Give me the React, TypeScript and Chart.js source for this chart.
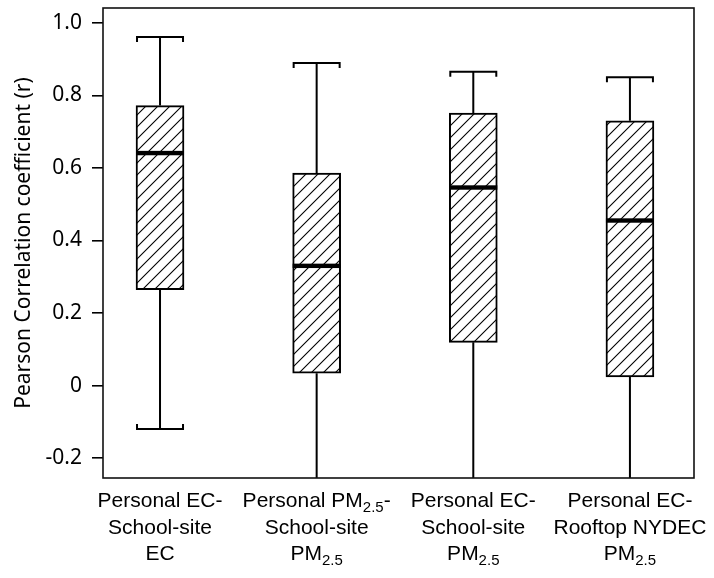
import React, { useEffect, useRef } from 'react';
import { Chart, registerables } from 'chart.js';

Chart.register(...registerables);

// ---- data ----
const categories: string[][] = [
  ['Personal EC-', 'School-site', 'EC'],
  ['Personal PM_{2.5}-', 'School-site', 'PM_{2.5}'],
  ['Personal EC-', 'School-site', 'PM_{2.5}'],
  ['Personal EC-', 'Rooftop NYDEC', 'PM_{2.5}'],
];
const whiskerHigh = [0.961, 0.889, 0.865, 0.85];
const q3Values = [0.772, 0.586, 0.751, 0.73];
const medianValues = [0.641, 0.33, 0.546, 0.455];
const q1Values = [0.264, 0.034, 0.119, 0.024];
const whiskerLow = [-0.12, -0.3, -0.3, -0.3];
const yTicks = [-0.2, 0, 0.2, 0.4, 0.6, 0.8, 1.0];
const yTitle = 'Pearson Correlation coefficient (r)';

const LABEL_FONT = '"Liberation Sans", Arial, sans-serif';
const AXIS_FONT = '"Noto Sans", sans-serif';

function makeHatch(ctx: CanvasRenderingContext2D): CanvasPattern | string {
  const s = 12;
  const c = document.createElement('canvas');
  c.width = s;
  c.height = s;
  const g = c.getContext('2d');
  if (!g) return '#fff';
  g.fillStyle = '#fff';
  g.fillRect(0, 0, s, s);
  g.strokeStyle = '#000';
  g.lineWidth = 1.1;
  g.beginPath();
  g.moveTo(0, s);
  g.lineTo(s, 0);
  g.moveTo(-s / 2, s / 2);
  g.lineTo(s / 2, -s / 2);
  g.moveTo(s / 2, s * 1.5);
  g.lineTo(s * 1.5, s / 2);
  g.stroke();
  return ctx.createPattern(c, 'repeat') || '#fff';
}

function parseSegments(line: string) {
  const segs: { t: string; sub: boolean }[] = [];
  const re = /_\{([^}]*)\}/g;
  let last = 0;
  let m: RegExpExecArray | null;
  while ((m = re.exec(line))) {
    if (m.index > last) segs.push({ t: line.slice(last, m.index), sub: false });
    segs.push({ t: m[1], sub: true });
    last = m.index + m[0].length;
  }
  if (last < line.length) segs.push({ t: line.slice(last), sub: false });
  return segs;
}

const boxPlugin = {
  id: 'boxExtras',
  afterDatasetsDraw(chart: any) {
    const { ctx, chartArea, scales } = chart;
    const x = scales.x;
    const y = scales.y;
    const meta = chart.getDatasetMeta(0);
    ctx.save();
    ctx.beginPath();
    ctx.rect(chartArea.left, chartArea.top, chartArea.right - chartArea.left, chartArea.bottom - chartArea.top);
    ctx.clip();
    ctx.strokeStyle = '#000';
    ctx.fillStyle = '#000';
    categories.forEach((_, i) => {
      const cx = x.getPixelForValue(i);
      const bar = meta.data[i];
      const half = (bar && bar.width ? bar.width : 48) / 2;
      const yHigh = y.getPixelForValue(whiskerHigh[i]);
      const yQ3 = y.getPixelForValue(q3Values[i]);
      const yQ1 = y.getPixelForValue(q1Values[i]);
      const yLow = y.getPixelForValue(whiskerLow[i]);
      const yMed = y.getPixelForValue(medianValues[i]);
      ctx.lineWidth = 2;
      ctx.beginPath();
      ctx.moveTo(cx, yQ3);
      ctx.lineTo(cx, yHigh);
      ctx.moveTo(cx, yQ1);
      ctx.lineTo(cx, yLow);
      ctx.stroke();
      // caps
      ctx.beginPath();
      ctx.moveTo(cx - half + 1, yHigh + 5);
      ctx.lineTo(cx - half + 1, yHigh);
      ctx.lineTo(cx + half - 1, yHigh);
      ctx.lineTo(cx + half - 1, yHigh + 5);
      ctx.moveTo(cx - half + 1, yLow - 5);
      ctx.lineTo(cx - half + 1, yLow);
      ctx.lineTo(cx + half - 1, yLow);
      ctx.lineTo(cx + half - 1, yLow - 5);
      ctx.stroke();
      // median
      ctx.fillRect(cx - half, yMed - 2.2, half * 2, 4.4);
    });
    ctx.restore();
  },
  afterDraw(chart: any) {
    const { ctx, chartArea, scales } = chart;
    const x = scales.x;
    ctx.save();
    ctx.strokeStyle = '#111';
    ctx.lineWidth = 1.6;
    ctx.strokeRect(chartArea.left, chartArea.top, chartArea.right - chartArea.left, chartArea.bottom - chartArea.top);
    // x labels with subscripts
    ctx.fillStyle = '#000';
    ctx.textBaseline = 'alphabetic';
    ctx.textAlign = 'left';
    const mainSize = 21;
    const subSize = 15;
    categories.forEach((lines, i) => {
      const cx = x.getPixelForValue(i);
      lines.forEach((line, j) => {
        const segs = parseSegments(line);
        let w = 0;
        segs.forEach((s) => {
          ctx.font = `${s.sub ? subSize : mainSize}px ${LABEL_FONT}`;
          w += ctx.measureText(s.t).width;
        });
        let px = cx - w / 2;
        const base = chartArea.bottom + 29 + j * 26.5;
        segs.forEach((s) => {
          ctx.font = `${s.sub ? subSize : mainSize}px ${LABEL_FONT}`;
          ctx.fillText(s.t, px, s.sub ? base + 5 : base);
          px += ctx.measureText(s.t).width;
        });
      });
    });
    ctx.restore();
  },
};

export default function App() {
  const canvasRef = useRef<HTMLCanvasElement | null>(null);

  useEffect(() => {
    document.body.style.margin = '0';
    const canvas = canvasRef.current;
    if (!canvas) return;
    const ctx = canvas.getContext('2d');
    if (!ctx) return;
    const hatch = makeHatch(ctx);
    const chart = new Chart(canvas, {
      type: 'bar',
      data: {
        datasets: [
          {
            data: categories.map((_, i) => ({ x: i, y: [q1Values[i], q3Values[i]] })) as any,
            backgroundColor: hatch as any,
            borderColor: '#000',
            borderWidth: 2,
            borderSkipped: false,
            barThickness: 48,
          },
        ],
      },
      options: {
        animation: false,
        responsive: false,
        maintainAspectRatio: false,
        layout: { padding: { top: 8, right: 20, left: 0, bottom: 0 } },
        plugins: {
          legend: { display: false },
          tooltip: { enabled: false },
        },
        scales: {
          x: {
            type: 'linear',
            offset: false,
            min: -0.364,
            max: 3.409,
            grid: { display: false },
            border: { display: false },
            ticks: { display: false },
            afterFit: (s: any) => {
              s.height = 100;
              s.paddingLeft = 0;
              s.paddingRight = 0;
            },
          },
          y: {
            type: 'linear',
            min: -0.255,
            max: 1.041,
            afterBuildTicks: (s: any) => {
              s.ticks = yTicks.map((v) => ({ value: v }));
            },
            afterFit: (s: any) => {
              s.width = 103;
              s.paddingTop = 0;
              s.paddingBottom = 0;
            },
            ticks: {
              color: '#000',
              font: { family: AXIS_FONT, size: 21 },
              padding: 10,
              callback: (v: any) => (Number(v) === 0 ? '0' : Number(v).toFixed(1)),
            },
            grid: {
              drawOnChartArea: false,
              drawTicks: true,
              tickLength: 11,
              color: '#000',
              lineWidth: 1.6,
            },
            border: { display: false },
            title: {
              display: true,
              text: yTitle,
              color: '#000',
              font: { family: AXIS_FONT, size: 21 },
              padding: { top: 11, bottom: 0 },
            },
          },
        },
      },
      plugins: [boxPlugin],
    });
    return () => chart.destroy();
  }, []);

  return (
    <div style={{ width: 714, height: 578 }}>
      <canvas ref={canvasRef} width={714} height={578} />
    </div>
  );
}
